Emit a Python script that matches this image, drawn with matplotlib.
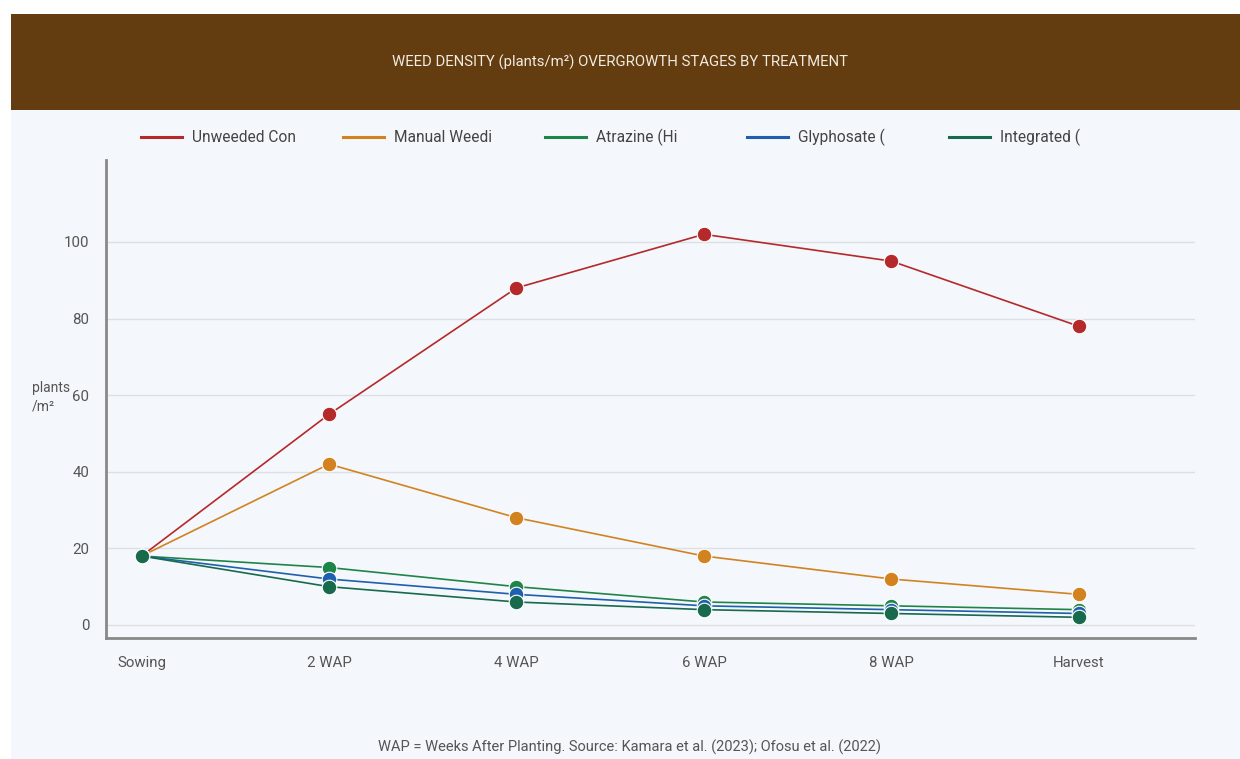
import matplotlib
matplotlib.use("Agg")
import matplotlib.pyplot as plt
from matplotlib.patches import Rectangle

plt.rcParams['font.family'] = ['Roboto', 'DejaVu Sans']

stages = ["Sowing", "2 WAP", "4 WAP", "6 WAP", "8 WAP", "Harvest"]
series_names = ["Unweeded Con", "Manual Weedi", "Atrazine (Hi", "Glyphosate (", "Integrated ("]
unweeded = [18, 55, 88, 102, 95, 78]
manual = [18, 42, 28, 18, 12, 8]
atrazine = [18, 15, 10, 6, 5, 4]
glyphosate = [18, 12, 8, 5, 4, 3]
integrated = [18, 10, 6, 4, 3, 2]
colors = ["#b5292a", "#d2831f", "#1f8448", "#1f5fad", "#176a4c"]
yticks = [0, 20, 40, 60, 80, 100]

W, H = 1240, 759
fig = plt.figure(figsize=(W / 100, H / 100), dpi=100)
fig.patch.set_facecolor("white")

# panel background and title banner
fig.add_artist(Rectangle((11 / W, 0), 1 - 11 / W, (759 - 110) / H,
                         transform=fig.transFigure, facecolor="#f4f7fb",
                         edgecolor="none", zorder=0))
fig.add_artist(Rectangle((11 / W, (759 - 110) / H), 1 - 11 / W, 96 / H,
                         transform=fig.transFigure, facecolor="#633d0f",
                         edgecolor="none", zorder=0))
fig.text((11 + 1240) / 2 / W - 5 / W, 1 - 62 / H,
         "WEED DENSITY (plants/m²) OVERGROWTH STAGES BY TREATMENT",
         color="#f2ece4", fontsize=10.7, ha="center", va="center")

ax = fig.add_axes([106 / W, 1 - 638 / H, (1195 - 106) / W, (638 - 160) / H])
ax.set_facecolor("none")

x = list(range(len(stages)))
all_series = [unweeded, manual, atrazine, glyphosate, integrated]
for name, vals, c in zip(series_names, all_series, colors):
    ax.plot(x, vals, color=c, lw=1.2, marker="o", markersize=10.5,
            markeredgecolor="white", markeredgewidth=0.8,
            label=name, zorder=3)

ax.set_xlim(-0.19, 5.62)
ax.set_ylim(-3.4, 121.4)
ax.set_xticks(x)
ax.set_xticklabels(stages)
ax.set_yticks(yticks)
ax.grid(axis="y", color="#dcdfe3", lw=1)
ax.set_axisbelow(True)
for s in ["top", "right"]:
    ax.spines[s].set_visible(False)
for s in ["left", "bottom"]:
    ax.spines[s].set_color("#888888")
    ax.spines[s].set_linewidth(2)
ax.tick_params(axis="both", length=0, colors="#555555", labelsize=10.8)
ax.tick_params(axis="x", pad=13)
ax.tick_params(axis="y", pad=12)

fig.text(32 / W, 1 - 397 / H, "plants\n/m²", fontsize=10, color="#555555",
         ha="left", va="center", linespacing=1.4)

# legend entries
for i, (name, c) in enumerate(zip(series_names, colors)):
    x0 = 141 + i * 202
    fig.add_artist(plt.Line2D([x0 / W, (x0 + 41) / W], [1 - 137 / H, 1 - 137 / H],
                              color=c, lw=2.2, transform=fig.transFigure))
    fig.text((x0 + 51) / W, 1 - 137 / H, name, fontsize=11.2, color="#444444",
             ha="left", va="center")

fig.text(630 / W, 1 - 747 / H,
         "WAP = Weeks After Planting. Source: Kamara et al. (2023); Ofosu et al. (2022)",
         fontsize=10.5, color="#555555", ha="center", va="center")

fig.savefig("out.png", dpi=100)
